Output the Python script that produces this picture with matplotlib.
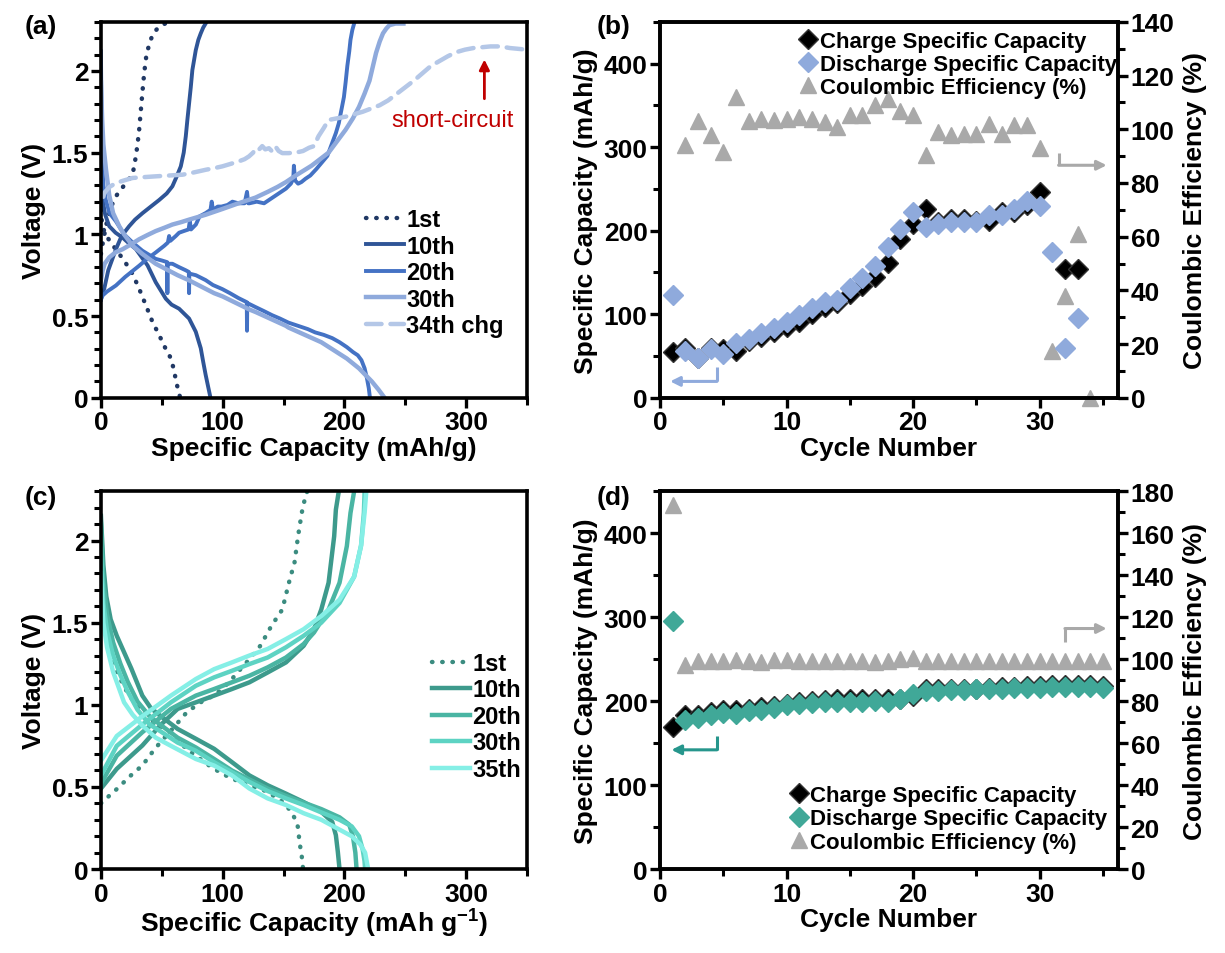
import matplotlib
matplotlib.use("Agg")
import matplotlib.pyplot as plt
from matplotlib.ticker import MultipleLocator, FormatStrFormatter

plt.rcParams['font.family'] = ['Liberation Sans', 'DejaVu Sans']
plt.rcParams['font.weight'] = 'bold'
plt.rcParams['axes.labelweight'] = 'bold'
plt.rcParams['mathtext.fontset'] = 'custom'
plt.rcParams['mathtext.rm'] = 'Liberation Sans:bold'
plt.rcParams['mathtext.default'] = 'rm'

# ---------------- panel (a): voltage profiles, blue cell ----------------
a1_dis_cap = [0, 1, 3.5, 8.2, 14, 19, 26, 31.4, 36.9, 42.3, 47.8, 52.5, 57.4, 60, 62, 64.2, 65]
a1_dis_v = [1.15, 1.06, 1.00, 0.95, 0.89, 0.84, 0.758, 0.667, 0.566, 0.465, 0.384, 0.31, 0.242, 0.17, 0.09, 0.03, 0.0]
a1_chg_cap = [0, 2, 5, 9, 13, 16.4, 21, 26, 28.7, 30.2, 31.4, 32.8, 34.2, 35.5, 37.4, 39.6, 42.3, 46.4, 52.7]
a1_chg_v = [0.88, 0.97, 1.08, 1.18, 1.24, 1.273, 1.32, 1.365, 1.477, 1.56, 1.64, 1.76, 1.88, 1.985, 2.10, 2.16, 2.22, 2.26, 2.29]

a10_dis_cap = [0, 1.4, 3.5, 6.8, 12, 17.8, 23, 28.7, 33.5, 38.3, 45, 53.3, 58, 64.2, 72.4, 77.9, 82, 84, 86, 88, 90]
a10_dis_v = [1.30, 1.21, 1.12, 1.05, 1.01, 0.98, 0.945, 0.91, 0.86, 0.81, 0.707, 0.606, 0.57, 0.545, 0.485, 0.404, 0.303, 0.22, 0.141, 0.07, 0.0]
a10_chg_cap = [0, 1, 2.7, 6, 12.3, 17, 23.2, 28, 34.2, 41, 47.8, 54, 58.7, 62, 65.6, 68, 69.7, 71, 72.4, 73.8, 75.1, 77.9, 80, 82, 84, 86]
a10_chg_v = [0.60, 0.64, 0.667, 0.78, 0.909, 0.99, 1.05, 1.09, 1.13, 1.17, 1.21, 1.25, 1.294, 1.35, 1.416, 1.50, 1.60, 1.70, 1.80, 1.90, 2.005, 2.127, 2.19, 2.23, 2.265, 2.29]

a20_dis_cap = [0, 0.5, 1, 2, 4, 7, 12.3, 19, 26, 34, 45, 50, 54.4, 54.6, 54.8, 58.7, 64, 69.7, 72.2, 72.4, 72.6,
               78, 86, 92, 99.7, 106, 113, 119.8, 120, 120.2, 127, 134, 140.7, 147, 154, 162, 170, 176, 183,
               190, 196, 202, 207, 211, 214, 216.6, 218.5, 220, 221]
a20_dis_v = [2.12, 1.70, 1.45, 1.30, 1.21, 1.13, 1.08, 1.00, 0.95, 0.90, 0.85, 0.84, 0.83, 0.64, 0.82, 0.82, 0.80,
             0.78, 0.77, 0.64, 0.76, 0.75, 0.72, 0.69, 0.665, 0.64, 0.61, 0.585, 0.41, 0.58, 0.555, 0.53, 0.505,
             0.485, 0.46, 0.44, 0.42, 0.40, 0.385, 0.365, 0.34, 0.31, 0.28, 0.26, 0.23, 0.18, 0.12, 0.06, 0.0]
a20_chg_cap = [0, 1.4, 5, 12.3, 20, 31.4, 38, 45, 52, 55, 56, 57, 61.5, 64.2, 68, 72, 73, 74, 78, 81, 86, 90, 91,
               92, 96, 99, 104, 108, 113, 118, 120, 121, 122, 128, 134, 140, 146, 152, 156, 158, 158.5, 159.5,
               162, 164.7, 168, 172, 177, 181.5, 186, 190, 193, 195.4, 197.5, 199.6, 201, 202.4, 204, 205,
               206.5, 208]
a20_chg_v = [0.60, 0.626, 0.65, 0.687, 0.74, 0.808, 0.85, 0.889, 0.93, 0.95, 0.99, 0.96, 0.99, 1.01, 1.02, 1.03,
             1.08, 1.03, 1.06, 1.11, 1.13, 1.15, 1.20, 1.15, 1.17, 1.17, 1.18, 1.20, 1.19, 1.19, 1.26, 1.19,
             1.19, 1.20, 1.19, 1.22, 1.25, 1.28, 1.31, 1.34, 1.42, 1.33, 1.31, 1.32, 1.34, 1.36, 1.40, 1.44,
             1.48, 1.56, 1.62, 1.68, 1.76, 1.84, 1.93, 2.03, 2.12, 2.19, 2.25, 2.29]

a30_dis_cap = [0, 1, 2, 4.1, 6.8, 10, 15, 19, 26, 34, 45, 63, 72, 93, 100, 122, 127, 152, 154, 181, 202, 212,
               222.5, 228, 233]
a30_dis_v = [1.93, 1.70, 1.55, 1.40, 1.24, 1.13, 1.05, 1.00, 0.93, 0.88, 0.82, 0.75, 0.72, 0.64, 0.62, 0.54,
             0.525, 0.44, 0.43, 0.34, 0.24, 0.18, 0.10, 0.05, 0.0]
a30_chg_cap = [0, 1.4, 3, 6.8, 12, 17.8, 25, 31.4, 38, 45, 52, 58.7, 66, 72.4, 86, 99.7, 113, 127, 137, 145,
               152, 160, 166.5, 173, 180, 187, 194, 201, 207, 212, 216.5, 220.6, 226, 229, 231.7, 234.5, 237,
               242, 248.5]
a30_chg_v = [0.72, 0.778, 0.82, 0.859, 0.89, 0.909, 0.94, 0.97, 0.995, 1.02, 1.04, 1.06, 1.075, 1.09, 1.12,
             1.155, 1.19, 1.225, 1.26, 1.29, 1.32, 1.36, 1.39, 1.42, 1.46, 1.50, 1.57, 1.64, 1.71, 1.78, 1.86,
             1.94, 2.11, 2.18, 2.23, 2.26, 2.28, 2.29, 2.29]

a34_chg_cap = [2, 2.7, 7, 12.3, 19, 26, 35, 45, 56, 67, 77, 86, 93, 99.7, 106, 113, 118, 121.6, 125, 127, 130,
               132.5, 135, 138, 140.7, 143.4, 146, 149, 154, 160, 166, 171, 175, 178.7, 183, 187, 194, 201,
               208, 215, 222, 229, 236, 243, 250, 257, 264, 271, 278, 285, 292, 299, 306, 313, 320, 328, 336,
               343, 350]
a34_chg_v = [1.23, 1.253, 1.29, 1.314, 1.33, 1.345, 1.35, 1.355, 1.36, 1.365, 1.38, 1.395, 1.405, 1.416, 1.43,
             1.446, 1.46, 1.477, 1.50, 1.527, 1.52, 1.54, 1.52, 1.527, 1.507, 1.537, 1.51, 1.497, 1.497, 1.50,
             1.51, 1.53, 1.54, 1.60, 1.65, 1.70, 1.71, 1.72, 1.735, 1.75, 1.77, 1.79, 1.82, 1.86, 1.90, 1.94,
             1.985, 2.03, 2.06, 2.09, 2.115, 2.13, 2.14, 2.145, 2.15, 2.15, 2.14, 2.135, 2.13]

# ---------------- panel (c): voltage profiles, teal cell ----------------
c1_dis_cap = [0, 2, 5, 10, 15, 22, 30, 38, 45, 51, 57.5, 65, 72, 78, 85, 93, 100, 107.6, 115, 122, 130, 137,
              143, 149, 154, 157.7, 160.5, 162, 163, 164.5, 165.5, 166]
c1_dis_v = [1.75, 1.55, 1.40, 1.27, 1.17, 1.07, 0.99, 0.93, 0.89, 0.86, 0.83, 0.77, 0.72, 0.69, 0.65, 0.61, 0.58,
            0.55, 0.53, 0.51, 0.49, 0.47, 0.44, 0.41, 0.37, 0.33, 0.29, 0.25, 0.17, 0.10, 0.05, 0.0]
c1_chg_cap = [0, 4.4, 12, 19, 26, 34, 41, 48.6, 56, 63, 70, 78, 85, 93, 100, 107.6, 115, 122, 131, 140, 149, 152,
              155, 159, 162, 165, 168, 169.5]
c1_chg_v = [0.40, 0.43, 0.48, 0.53, 0.58, 0.63, 0.70, 0.77, 0.83, 0.89, 0.95, 0.995, 1.03, 1.056, 1.10, 1.157,
            1.22, 1.278, 1.36, 1.48, 1.58, 1.67, 1.76, 1.865, 2.03, 2.17, 2.27, 2.30]

c10_dis_cap = [0, 2, 4.4, 8, 13, 19, 25, 34, 41, 48.6, 63, 78, 93, 107.6, 122, 137, 152, 166.5, 181, 190, 193,
               194.6, 196]
c10_dis_v = [2.15, 1.85, 1.66, 1.52, 1.42, 1.32, 1.22, 1.056, 0.98, 0.934, 0.853, 0.793, 0.732, 0.651, 0.57,
             0.51, 0.459, 0.408, 0.348, 0.287, 0.206, 0.105, 0.0]
c10_chg_cap = [0, 13, 34, 48.6, 63, 78, 93, 107.6, 122, 137, 152, 166.5, 175, 181, 187, 191.6, 193, 195.4]
c10_chg_v = [0.49, 0.61, 0.752, 0.874, 0.975, 1.015, 1.056, 1.096, 1.137, 1.197, 1.258, 1.359, 1.46, 1.58,
             1.743, 2.026, 2.188, 2.30]

c20_dis_cap = [0, 2, 5, 10, 16, 22, 30, 40, 48.6, 63, 78, 93, 107.6, 122, 137, 152, 166.5, 181, 196, 204, 207,
               209, 210]
c20_dis_v = [2.10, 1.75, 1.55, 1.38, 1.25, 1.14, 1.02, 0.93, 0.88, 0.80, 0.74, 0.67, 0.60, 0.545, 0.49, 0.445,
             0.405, 0.365, 0.315, 0.27, 0.20, 0.10, 0.0]
c20_chg_cap = [0, 13, 34, 57.5, 78, 93, 107.6, 122, 137, 152, 166.5, 175, 187, 196, 202, 205, 208]
c20_chg_v = [0.52, 0.69, 0.833, 0.975, 1.056, 1.096, 1.137, 1.177, 1.228, 1.288, 1.37, 1.44, 1.58, 1.743, 1.966,
             2.168, 2.30]

c30_dis_cap = [0, 2, 5, 10, 16, 22, 30, 40, 48.6, 63, 78, 93, 107.6, 122, 137, 152, 166.5, 181, 196, 206, 212,
               215, 216.5, 217]
c30_dis_v = [1.95, 1.62, 1.45, 1.30, 1.18, 1.08, 0.97, 0.88, 0.84, 0.77, 0.72, 0.65, 0.59, 0.53, 0.475, 0.43,
             0.39, 0.345, 0.30, 0.26, 0.20, 0.12, 0.05, 0.0]
c30_chg_cap = [0, 13, 34, 57.5, 78, 93, 107.6, 122, 137, 152, 166.5, 181, 196, 208, 213.7, 216, 216.6]
c30_chg_v = [0.57, 0.75, 0.88, 1.015, 1.116, 1.167, 1.207, 1.248, 1.288, 1.35, 1.42, 1.50, 1.62, 1.78, 1.97,
             2.17, 2.30]

c35_dis_cap = [0, 2, 5, 10, 19, 26, 34, 45, 57.5, 78, 93, 107.6, 122, 137, 152, 166.5, 181, 196, 206, 213, 217,
               219, 219.5]
c35_dis_v = [1.80, 1.50, 1.35, 1.20, 1.015, 0.94, 0.874, 0.80, 0.75, 0.67, 0.63, 0.57, 0.49, 0.43, 0.39, 0.34,
             0.30, 0.24, 0.20, 0.15, 0.10, 0.02, 0.0]
c35_chg_cap = [0, 13, 34, 57.5, 78, 93, 107.6, 122, 137, 152, 166.5, 181, 196, 208, 213.7, 216.6, 218]
c35_chg_v = [0.66, 0.81, 0.93, 1.056, 1.157, 1.217, 1.258, 1.30, 1.34, 1.40, 1.46, 1.54, 1.64, 1.78, 1.97, 2.17,
             2.30]

# ---------------- panel (b): cycling, blue cell ----------------
b_cycles = list(range(1, 34))
b_charge = [55, 60, 48, 59, 58, 56, 68, 73, 79, 85, 91, 100, 109, 113, 124, 134, 144, 161, 190, 208, 226, 210,
            214, 214, 212, 212, 222, 222, 231, 246, None, 154, 154]
b_discharge = [123, 56, 47.5, 58, 52, 65, 70, 77, 83, 91, 99, 107, 115, 117, 131, 143, 158, 181, 202, 222, 204,
               208, 210, 210, 211, 219, 219, 226, 236, 230, 174, 59, 95]
b_ce_cycles = list(range(2, 35))
b_ce = [94, 103, 97.7, 91.5, 112, 103, 104, 103.6, 104, 104.6, 104, 102.7, 101, 105.4, 105.4, 109, 111.4, 106.7,
        105.2, 90.3, 99, 97.7, 98.4, 98.4, 102, 98.4, 101.5, 101.5, 93, 17.6, 38, 61, 0]

# ---------------- panel (d): cycling, teal cell ----------------
d_cycles = list(range(1, 36))
d_charge = [169, 183, 184, 187, 189, 189, 191, 193, 194, 197, 199, 200, 201, 202, 202, 202, 203, 202, 203, 206,
            214, 215, 215, 215, 215, 216, 217, 217, 218, 218, 219, 219, 219, 219, 218]
d_discharge = [295, 178, 180, 183, 186, 185, 188, 190, 192, 195, 197, 198, 199, 199, 199, 199, 200, 199, 202, 209,
               212, 212, 213, 213, 214, 215, 215, 216, 216, 216, 217, 217, 217, 217, 216]
d_ce = [173.3, 97, 99.1, 99.1, 99.1, 99.6, 98.9, 98.7, 99.4, 99.6, 99.2, 99.2, 99.1, 98.9, 99.0, 99.2, 98.8,
        99.0, 100.0, 100.7, 99.1, 98.9, 99.1, 99.1, 99.2, 99.2, 99.2, 99.2, 99.1, 99.3, 99.2, 99.1, 99.3, 99.1,
        99.1]

BLUES = {'1st': '#203864', '10th': '#2F5597', '20th': '#4472C4', '30th': '#8FAADC', '34th': '#B4C7E7'}
TEALS = {'1st': '#3B8C80', '10th': '#3D9A8C', '20th': '#4AB5A3', '30th': '#5DD3C3', '35th': '#85EFE6'}
GREY = '#A9A9A9'
TICK_FS = 19
LAB_FS = 19

fig = plt.figure(figsize=(12.25, 9.54), dpi=100)
ax_a = fig.add_axes([0.0824, 0.582, 0.3478, 0.394])
ax_b = fig.add_axes([0.5388, 0.582, 0.3739, 0.394])
ax_c = fig.add_axes([0.0824, 0.088, 0.3478, 0.396])
ax_d = fig.add_axes([0.5388, 0.088, 0.3739, 0.396])


def style_axis(ax, right=False):
    for sp in ax.spines.values():
        sp.set_linewidth(2.6)
    ax.tick_params(which='major', direction='out', length=7, width=2.4, labelsize=TICK_FS, pad=2)
    ax.tick_params(which='minor', direction='out', length=5, width=2.2)
    ax.tick_params(top=False, right=right, left=not right, which='both')
    if right:
        ax.tick_params(labelright=True, labelleft=False, which='both')


def voltage_panel(ax, curves, xlabel):
    for label, color, ls, lw, segs in curves:
        first = True
        for cap, v in segs:
            ax.plot(cap, v, color=color, linestyle=ls, lw=lw, dash_capstyle='round',
                    label=label if first else None)
            first = False
    ax.set_xlim(0, 350)
    ax.set_ylim(0, 2.3)
    ax.xaxis.set_major_locator(MultipleLocator(100))
    ax.xaxis.set_minor_locator(MultipleLocator(50))
    ax.yaxis.set_major_locator(MultipleLocator(0.5))
    ax.yaxis.set_minor_locator(MultipleLocator(0.1))
    ax.yaxis.set_major_formatter(FormatStrFormatter('%g'))
    ax.set_xlabel(xlabel, fontsize=LAB_FS, labelpad=1)
    ax.set_ylabel('Voltage (V)', fontsize=LAB_FS, labelpad=4)
    style_axis(ax)


dot = (0, (0.1, 2.2))
voltage_panel(ax_a, [
    ('1st', BLUES['1st'], dot, 3.2, [(a1_dis_cap, a1_dis_v), (a1_chg_cap, a1_chg_v)]),
    ('10th', BLUES['10th'], '-', 2.8, [(a10_dis_cap, a10_dis_v), (a10_chg_cap, a10_chg_v)]),
    ('20th', BLUES['20th'], '-', 2.8, [(a20_dis_cap, a20_dis_v), (a20_chg_cap, a20_chg_v)]),
    ('30th', BLUES['30th'], '-', 3.2, [(a30_dis_cap, a30_dis_v), (a30_chg_cap, a30_chg_v)]),
    ('34th chg', BLUES['34th'], (0, (3.5, 2)), 3.2, [(a34_chg_cap, a34_chg_v)]),
], 'Specific Capacity (mAh/g)')
ax_a.legend(loc='upper left', bbox_to_anchor=(0.6, 0.53), frameon=False, fontsize=17,
            handlelength=1.6, handletextpad=0.1, labelspacing=0.15, borderaxespad=0)
ax_a.annotate('', xy=(315, 2.07), xytext=(315, 1.83),
              arrowprops=dict(arrowstyle='-|>', color='#C00000', lw=2, mutation_scale=15,
                              shrinkA=0, shrinkB=0))
ax_a.text(289, 1.70, 'short-circuit', color='#C00000', fontsize=17, fontweight='normal',
          ha='center', va='center')

voltage_panel(ax_c, [
    ('1st', TEALS['1st'], dot, 3.2, [(c1_dis_cap, c1_dis_v), (c1_chg_cap, c1_chg_v)]),
    ('10th', TEALS['10th'], '-', 3.2, [(c10_dis_cap, c10_dis_v), (c10_chg_cap, c10_chg_v)]),
    ('20th', TEALS['20th'], '-', 3.2, [(c20_dis_cap, c20_dis_v), (c20_chg_cap, c20_chg_v)]),
    ('30th', TEALS['30th'], '-', 3.2, [(c30_dis_cap, c30_dis_v), (c30_chg_cap, c30_chg_v)]),
    ('35th', TEALS['35th'], '-', 3.2, [(c35_dis_cap, c35_dis_v), (c35_chg_cap, c35_chg_v)]),
], 'Specific Capacity (mAh g$^{-1}$)')
ax_c.legend(loc='upper left', bbox_to_anchor=(0.755, 0.6), frameon=False, fontsize=17,
            handlelength=1.6, handletextpad=0.1, labelspacing=0.15, borderaxespad=0)


def elbow(ax, xs, ys, color):
    ax.plot(xs[:-1], ys[:-1], color=color, lw=2.2, solid_capstyle='butt')
    ax.annotate('', xy=(xs[-1], ys[-1]), xytext=(xs[-2], ys[-2]),
                arrowprops=dict(arrowstyle='-|>', color=color, lw=2.2, mutation_scale=14,
                                shrinkA=0, shrinkB=0))


def cycle_panel(ax, cyc, chg, dis, ce_cyc, ce, dis_color, ce_max, legend_loc):
    ax2 = ax.twinx()
    ax2.plot(ce_cyc, ce, linestyle='none', marker='^', ms=12, color=GREY, mec=GREY,
             label='Coulombic Efficiency (%)', clip_on=False)
    ch_x = [c for c, v in zip(cyc, chg) if v is not None]
    ch_y = [v for v in chg if v is not None]
    h1, = ax.plot(ch_x, ch_y, linestyle='none', marker='D', ms=10, color='black', mec='#333333',
                  label='Charge Specific Capacity')
    h2, = ax.plot(cyc, dis, linestyle='none', marker='D', ms=10, color=dis_color, mec=dis_color,
                  label='Discharge Specific Capacity')
    ax.set_zorder(ax2.get_zorder() + 1)
    ax.patch.set_visible(False)
    h3 = ax2.get_lines()[0]

    ax.set_xlim(0, 36.2)
    ax.set_ylim(0, 450)
    ax2.set_ylim(0, ce_max)
    ax.xaxis.set_major_locator(MultipleLocator(10))
    ax.xaxis.set_minor_locator(MultipleLocator(5))
    ax.yaxis.set_major_locator(MultipleLocator(100))
    ax.yaxis.set_minor_locator(MultipleLocator(50))
    ax2.yaxis.set_major_locator(MultipleLocator(20))
    ax2.yaxis.set_minor_locator(MultipleLocator(10))
    ax.set_xlabel('Cycle Number', fontsize=LAB_FS, labelpad=1)
    ax.set_ylabel('Specific Capacity (mAh/g)', fontsize=LAB_FS, labelpad=4)
    ax2.set_ylabel('Coulombic Efficiency (%)', fontsize=LAB_FS, labelpad=6)
    style_axis(ax)
    style_axis(ax2, right=True)
    ax.legend(handles=[h1, h2, h3], frameon=False, fontsize=16, handlelength=0.6,
              handletextpad=0.2, labelspacing=0.1, borderaxespad=0, **legend_loc)
    return ax2


b2 = cycle_panel(ax_b, b_cycles, b_charge, b_discharge, b_ce_cycles, b_ce, '#8FAADC', 140,
                 dict(loc='upper left', bbox_to_anchor=(0.29, 1.0)))
elbow(ax_b, [4.5, 4.5, 0.8], [37, 19.6, 19.6], '#8FAADC')
elbow(b2, [31.5, 31.5, 35.3], [91, 86.6, 86.6], GREY)

d2 = cycle_panel(ax_d, d_cycles, d_charge, d_discharge, d_cycles, d_ce, '#40A898', 180,
                 dict(loc='lower left', bbox_to_anchor=(0.27, 0.02)))
elbow(ax_d, [4.5, 4.5, 0.9], [158, 142, 142], '#26968C')
elbow(d2, [32, 32, 35.3], [108, 114.6, 114.6], GREY)

for lab, x, y in [('(a)', 0.020, 0.972), ('(b)', 0.487, 0.972), ('(c)', 0.020, 0.478), ('(d)', 0.487, 0.478)]:
    fig.text(x, y, lab, fontsize=19, fontweight='bold', ha='left', va='center')

fig.savefig('out.png', dpi=100)
